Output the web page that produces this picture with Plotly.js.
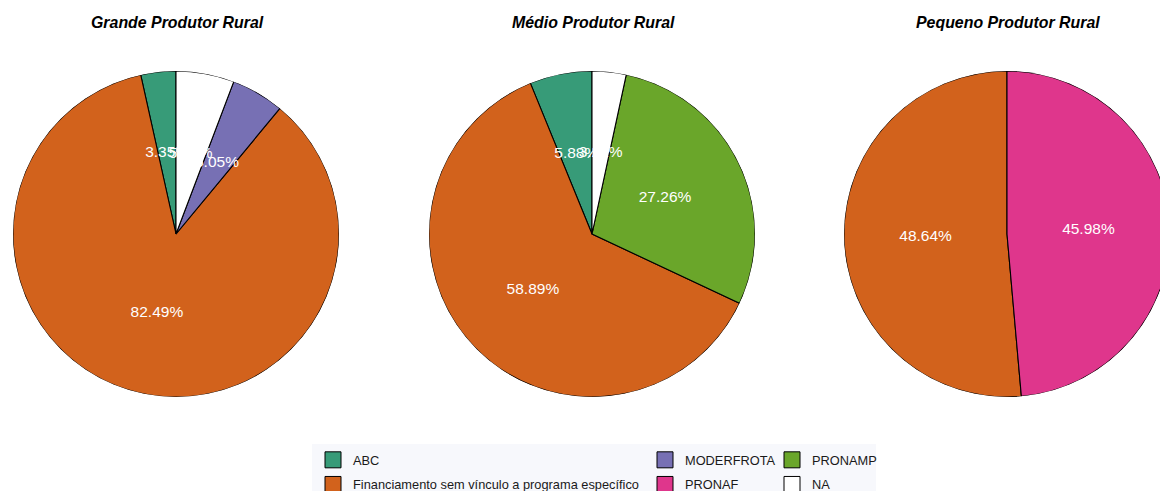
<!DOCTYPE html>
<html>
<head>
<meta charset="utf-8">
<script src="https://cdn.plot.ly/plotly-3.0.1.min.js"></script>
<style>
html, body { margin: 0; padding: 0; overflow: hidden; background: #ffffff; width: 1160px; height: 491px; }
#wrap { width: 1160px; height: 491px; overflow: hidden; position: relative; }
#chart { width: 1172px; height: 491px; position: absolute; left: 0; top: 0; }
</style>
</head>
<body>
<div id="wrap"><div id="chart"></div></div>
<script>
// ---- data ----
const categories = ["ABC", "Financiamento sem vínculo a programa específico", "MODERFROTA", "PRONAF", "PRONAMP", "NA"];
const categoryColors = ["#379b78", "#d2621c", "#7770b4", "#df368c", "#6aa62a", "#ffffff"];
const producers = ["Grande Produtor Rural", "Médio Produtor Rural", "Pequeno Produtor Rural"];
const grandeValues  = [3.35, 82.49, 5.05, 0, 0, 5.56];
const medioValues   = [5.88, 58.89, 0, 0, 27.26, 3.21];
const pequenoValues = [0, 48.64, 0, 45.98, 0, 0];
const producerValues = [grandeValues, medioValues, pequenoValues];

// ---- layout helpers (pixel -> paper) ----
const W = 1172, H = 491;
const fx = px => px / W;
const fy = py => 1 - py / H;
const centersX = [176, 592, 1007];
const centerY = 234, R = 163;
const font = "Liberation Sans, Arial, Helvetica, sans-serif";

const traces = [];
const layout = {
  width: W, height: H,
  margin: {l: 0, r: 0, t: 0, b: 0, autoexpand: false},
  paper_bgcolor: "#ffffff",
  plot_bgcolor: "#ffffff",
  font: {family: font, color: "#1a1a1a"},
  annotations: [],
  shapes: [{
    type: "rect", xref: "paper", yref: "paper", layer: "below",
    x0: fx(312), x1: fx(876), y0: fy(444), y1: fy(500),
    fillcolor: "#f7f8fc", line: {width: 0}
  }],
  showlegend: true
};

producerValues.forEach((vals, p) => {
  const polarId = p === 0 ? "polar" : "polar" + (p + 1);
  const idx = vals.map((v, i) => i).filter(i => vals[i] > 0);
  const total = idx.reduce((s, i) => s + vals[i], 0);
  let cum = 0;
  const theta = [], width = [], colors = [], texts = [];
  idx.forEach(i => {
    const w = vals[i] / total * 360;
    theta.push(cum + w / 2);
    width.push(w);
    colors.push(categoryColors[i]);
    texts.push(vals[i].toFixed(2) + "%");
    cum += w;
  });
  traces.push({
    type: "barpolar", subplot: polarId,
    r: idx.map(() => 1), theta: theta, width: width,
    marker: {color: colors, line: {color: "#000000", width: 1.1}},
    showlegend: false, hoverinfo: "skip"
  });
  traces.push({
    type: "scatterpolar", subplot: polarId, mode: "text",
    r: idx.map(() => 0.5), theta: theta, text: texts,
    textfont: {family: font, size: 15.5, color: "#ffffff"},
    cliponaxis: false, showlegend: false, hoverinfo: "skip"
  });
  layout[polarId] = {
    domain: {
      x: [fx(centersX[p] - R), fx(centersX[p] + R)],
      y: [fy(centerY + R), fy(centerY - R)]
    },
    bgcolor: "rgba(0,0,0,0)",
    radialaxis: {visible: false, range: [0, 1]},
    angularaxis: {
      visible: false, direction: "counterclockwise", rotation: 90,
      showgrid: false, showline: false, showticklabels: false, ticks: ""
    }
  };
  layout.annotations.push({
    text: producers[p], xref: "paper", yref: "paper",
    x: fx(centersX[p] + 1), y: fy(22.5), xanchor: "center", yanchor: "middle",
    showarrow: false,
    font: {family: font, size: 15.9, color: "#000000", weight: "bold", style: "italic"}
  });
});

// legend entries (three columns of two)
const legendColumns = [[0, 1], [2, 3], [4, 5]];
const legendX = [313, 645, 772];
legendColumns.forEach((col, c) => {
  const legId = c === 0 ? "legend" : "legend" + (c + 1);
  col.forEach(i => {
    traces.push({
      type: "scatterpolar", subplot: "polar", mode: "markers",
      r: [null], theta: [null], name: categories[i],
      legend: legId, legendgroup: "g" + i,
      marker: {symbol: "square", size: 16, color: categoryColors[i], line: {color: "#000000", width: 1}},
      hoverinfo: "skip"
    });
  });
  layout[legId] = {
    x: fx(legendX[c]), y: fy(445), xanchor: "left", yanchor: "top",
    orientation: "v", bgcolor: "rgba(0,0,0,0)", borderwidth: 0,
    tracegroupgap: 5, itemclick: false, itemdoubleclick: false,
    font: {family: font, size: 12.8, color: "#1a1a1a"}
  };
});

Plotly.newPlot("chart", traces, layout, {displayModeBar: false, staticPlot: true});
</script>
</body>
</html>
